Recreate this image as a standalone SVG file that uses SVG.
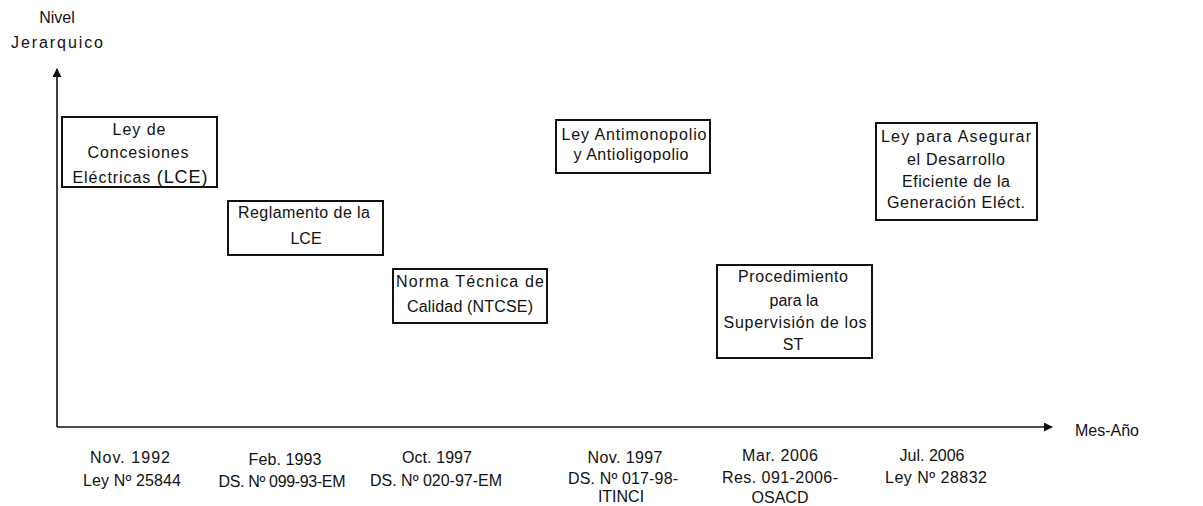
<svg xmlns="http://www.w3.org/2000/svg" width="1203" height="506" viewBox="0 0 1203 506">
<style>
text{font-family:"Liberation Sans",Arial,sans-serif;font-size:16px;fill:#111;text-anchor:middle}
.box{fill:#fff;stroke:#111;stroke-width:2}
.ax{stroke:#111;stroke-width:1.6;fill:none}
</style>
<defs>
<marker id="ah" viewBox="0 0 10 10" refX="9" refY="5" markerWidth="9" markerHeight="9" markerUnits="userSpaceOnUse" orient="auto"><path d="M0,0 L10,5 L0,10 z" fill="#111"/></marker>
</defs>
<rect width="1203" height="506" fill="#fff"/>
<g id="connectors">
<path class="ax" d="M57,427 L57,69" marker-end="url(#ah)"/>
<path class="ax" d="M57,427 L1052,427" marker-end="url(#ah)"/>
</g>
<g id="axis-labels">
<text x="57" y="23" font-size="17">Nivel</text>
<text x="57" y="48" font-size="17" textLength="92">Jerarquico</text>
<text x="1107" y="436">Mes-Año</text>
</g>
<g id="n1">
<rect class="box" x="62" y="117" width="155" height="70"/>
<text x="139" y="135" textLength="53">Ley de</text>
<text x="138" y="158" textLength="101">Concesiones</text>
<text x="140" y="183" textLength="135">Eléctricas <tspan font-size="18">(LCE)</tspan></text>
</g>
<g id="n2">
<rect class="box" x="228" y="201" width="155" height="54"/>
<text x="304" y="218" textLength="132">Reglamento de la</text>
<text x="306" y="244" font-size="18.5">LCE</text>
</g>
<g id="n3">
<rect class="box" x="393" y="269" width="154" height="54"/>
<text x="470" y="287" textLength="148">Norma Técnica de</text>
<text x="470" y="312" textLength="126">Calidad (NTCSE)</text>
</g>
<g id="n4">
<rect class="box" x="556" y="120" width="154" height="53"/>
<text x="634" y="140" textLength="145">Ley Antimonopolio</text>
<text x="631" y="160" textLength="115">y Antioligopolio</text>
</g>
<g id="n5">
<rect class="box" x="717" y="265" width="155" height="93"/>
<text x="793" y="282" textLength="110">Procedimiento</text>
<text x="794" y="306">para la</text>
<text x="795" y="328" textLength="143">Supervisión de los</text>
<text x="793" y="350">ST</text>
</g>
<g id="n6">
<rect class="box" x="876" y="123" width="161" height="97"/>
<text x="956" y="142" textLength="150">Ley para Asegurar</text>
<text x="956" y="165" textLength="98">el Desarrollo</text>
<text x="956" y="187" textLength="108">Eficiente de la</text>
<text x="956" y="208" textLength="138">Generación Eléct.</text>
</g>
<g id="dates">
<text x="130" y="463" textLength="80">Nov. 1992</text>
<text x="132" y="486" textLength="98">Ley Nº 25844</text>
<text x="285" y="465" textLength="73">Feb. 1993</text>
<text x="282" y="487" textLength="127">DS. Nº 099-93-EM</text>
<text x="437" y="463" textLength="70">Oct. 1997</text>
<text x="436" y="486" textLength="132">DS. Nº 020-97-EM</text>
<text x="625" y="463" textLength="75">Nov. 1997</text>
<text x="623" y="484" textLength="110">DS. Nº 017-98-</text>
<text x="621" y="502" font-size="13">ITINCI</text>
<text x="780" y="461" textLength="76">Mar. 2006</text>
<text x="780" y="483" textLength="116">Res. 091-2006-</text>
<text x="780" y="503" font-size="14">OSACD</text>
<text x="932" y="461">Jul. 2006</text>
<text x="936" y="483" textLength="102">Ley Nº 28832</text>
</g>
</svg>
